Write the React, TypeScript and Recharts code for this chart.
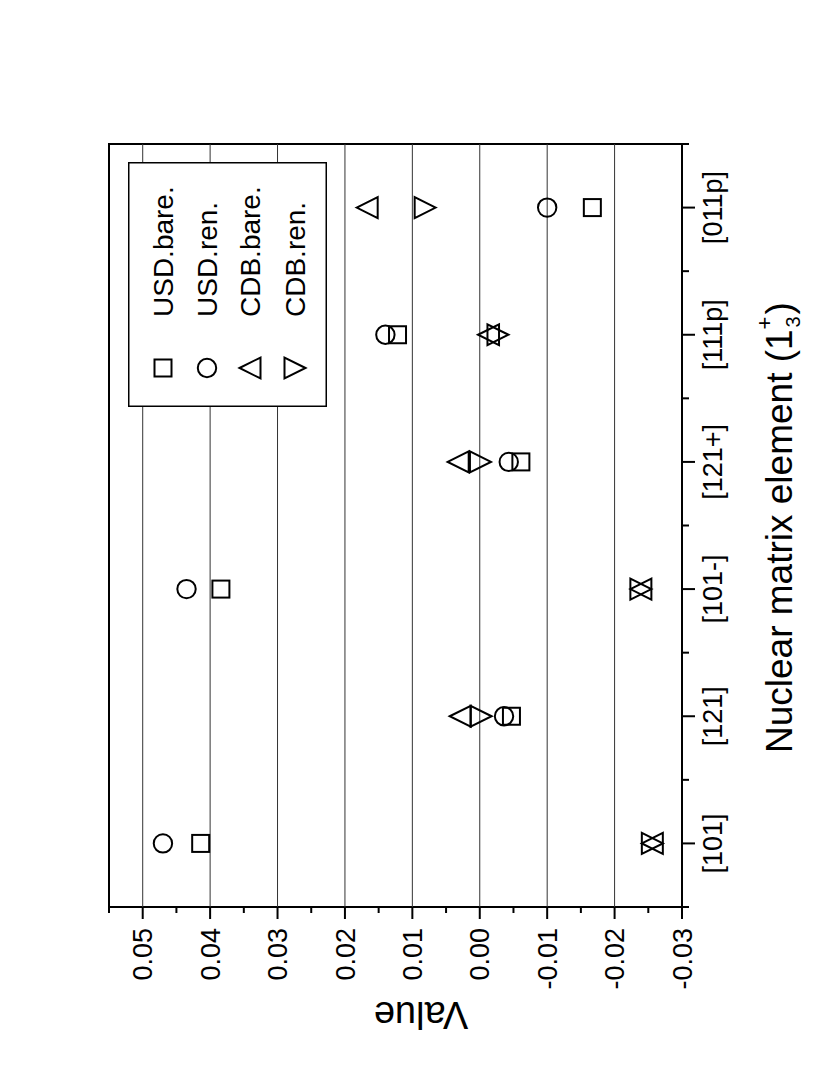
import { ScatterChart, Scatter, XAxis, YAxis, ReferenceLine, ReferenceArea, Legend } from "recharts";

// values, one per category
const categories = ["[101]", "[121]", "[101-]", "[121+]", "[111p]", "[011p]"];
const usdBare = [0.0414, -0.0047, 0.0384, -0.0061, 0.0122, -0.0167];
const usdRen = [0.047, -0.0036, 0.0435, -0.0043, 0.014, -0.01];
const cdbBare = [-0.0256, 0.0029, -0.0239, 0.0032, -0.0013, 0.0167];
const cdbRen = [-0.0256, -0.0002, -0.0239, -0.0001, -0.0027, 0.0081];

const xTicks = [0.5, 1, 1.5, 2, 2.5, 3, 3.5, 4, 4.5, 5, 5.5, 6, 6.5];
const yTicks = [-0.03, -0.025, -0.02, -0.015, -0.01, -0.005, 0, 0.005, 0.01, 0.015, 0.02, 0.025, 0.03, 0.035, 0.04, 0.045, 0.05, 0.055];
const gridValues = [-0.02, -0.01, 0, 0.01, 0.02, 0.03, 0.04, 0.05];

type Kind = "square" | "circle" | "up" | "down";

const series: { name: string; values: number[]; kind: Kind }[] = [
  { name: "USD.bare.", values: usdBare, kind: "square" },
  { name: "USD.ren.", values: usdRen, kind: "circle" },
  { name: "CDB.bare.", values: cdbBare, kind: "up" },
  { name: "CDB.ren.", values: cdbRen, kind: "down" },
];

const W = 1090;
const H = 817;
const NARROW = '"Liberation Sans Narrow", "Arial Narrow", "Liberation Sans", Arial, sans-serif';
const SANS = '"Liberation Sans", Arial, Helvetica, sans-serif';

function Marker({ kind, cx, cy }: { kind: Kind; cx: number; cy: number }) {
  const common = { fill: "none", stroke: "#000", strokeWidth: 2 };
  if (kind === "square") return <rect x={cx - 8.5} y={cy - 8.5} width={17} height={17} {...common} />;
  if (kind === "circle") return <circle cx={cx} cy={cy} r={9.2} {...common} />;
  if (kind === "up")
    return <path d={`M${cx},${cy - 10.5} L${cx + 10.5},${cy + 10.5} L${cx - 10.5},${cy + 10.5} Z`} {...common} />;
  return <path d={`M${cx},${cy + 10.5} L${cx + 10.5},${cy - 10.5} L${cx - 10.5},${cy - 10.5} Z`} {...common} />;
}

function isMajor(v: number, step: number) {
  const r = v / step;
  return Math.abs(r - Math.round(r)) < 1e-6;
}

function YTick(props: any) {
  const { x, y, payload } = props;
  const v = payload.value as number;
  const major = isMajor(v, 0.01);
  return (
    <g>
      <line x1={x} x2={x - (major ? 12 : 6)} y1={y} y2={y} stroke="#000" strokeWidth={2} />
      {major && (
        <text x={x - 21} y={y} dy="0.36em" textAnchor="end" fontSize={27} fontFamily={NARROW} fill="#000">
          {v.toFixed(2)}
        </text>
      )}
    </g>
  );
}

function XTick(props: any) {
  const { x, y, payload } = props;
  const v = payload.value as number;
  const major = isMajor(v, 1);
  return (
    <g>
      <line x1={x} x2={x} y1={y} y2={y + (major ? 13 : 7)} stroke="#000" strokeWidth={2} />
      {major && (
        <text x={x} y={y + 40} textAnchor="middle" fontSize={27} fontFamily={NARROW} fill="#000">
          {categories[v - 1]}
        </text>
      )}
    </g>
  );
}

function LegendBox() {
  const rows = [35, 79, 122, 167];
  return (
    <svg width={245} height={199} style={{ display: "block" }}>
      <rect x={0.75} y={0.75} width={243.5} height={197.5} fill="#fff" stroke="#000" strokeWidth={1.5} />
      {series.map((s, i) => (
        <g key={s.name}>
          <Marker kind={s.kind} cx={39} cy={rows[i]} />
          <text x={90} y={rows[i]} dy="0.36em" fontSize={28} fontFamily={SANS} fill="#000">
            {s.name}
          </text>
        </g>
      ))}
    </svg>
  );
}

export default function App() {
  return (
    <div style={{ position: "absolute", left: 0, top: 0, width: 817, height: 1090, overflow: "hidden", background: "#fff" }}>
      <div style={{ width: W, height: H, transformOrigin: "0 0", transform: `translateY(${W}px) rotate(-90deg)` }}>
        <ScatterChart width={W} height={H} margin={{ top: 109, right: 144, bottom: 55, left: 103 }}>
          <XAxis
            type="number"
            dataKey="x"
            domain={[0.5, 6.5]}
            ticks={xTicks}
            interval={0}
            allowDataOverflow
            axisLine={false}
            tickLine={false}
            tickSize={0}
            tickMargin={0}
            height={80}
            tick={<XTick />}
            label={{
              position: "bottom",
              content: () => (
                <text x={337} y={792} fontSize={37} fontFamily={SANS} fill="#000">
                  Nuclear matrix element (1
                  <tspan fontSize={22} dy={-20}>+</tspan>
                  <tspan fontSize={20} dx={-11} dy={28}>3</tspan>
                  <tspan fontSize={37} dx={2} dy={-8}>)</tspan>
                </text>
              ),
            }}
          />
          <YAxis
            type="number"
            dataKey="y"
            domain={[-0.03, 0.055]}
            ticks={yTicks}
            interval={0}
            allowDataOverflow
            axisLine={false}
            tickLine={false}
            tickSize={0}
            tickMargin={0}
            width={80}
            tick={<YTick />}
            label={{
              position: "left",
              content: () => (
                <text x={88} y={421} transform="rotate(-90, 88, 421)" textAnchor="middle" fontSize={38} fontFamily={SANS} fill="#000">
                  Value
                </text>
              ),
            }}
          />
          {gridValues.map((g) => (
            <ReferenceLine key={g} y={g} stroke="#333" strokeWidth={1} />
          ))}
          <ReferenceArea x1={0.5} x2={6.5} y1={-0.03} y2={0.055} fill="none" stroke="#000" strokeWidth={2} />
          {series.map((s) => (
            <Scatter
              key={s.name}
              name={s.name}
              data={s.values.map((v, i) => ({ x: i + 1, y: v }))}
              isAnimationActive={false}
              shape={(p: any) => <Marker kind={s.kind} cx={p.cx} cy={p.cy} />}
            />
          ))}
          <Legend
            layout="vertical"
            align="center"
            verticalAlign="middle"
            content={() => <LegendBox />}
            wrapperStyle={{ position: "absolute", left: 683, top: 128, width: 245, height: 199 }}
          />
        </ScatterChart>
      </div>
    </div>
  );
}
